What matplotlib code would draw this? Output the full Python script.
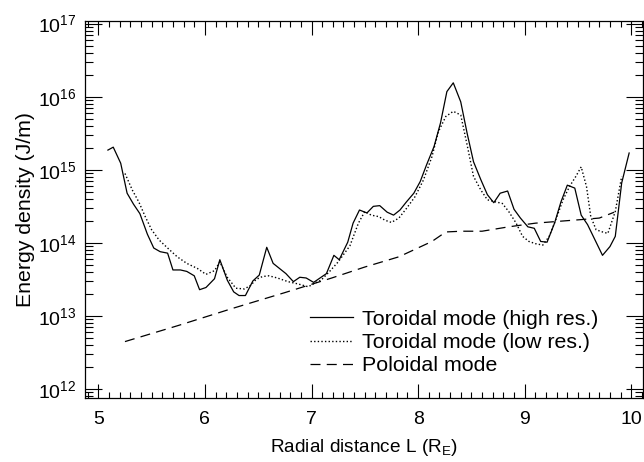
import numpy as np
import matplotlib
matplotlib.use("Agg")
import matplotlib.pyplot as plt
from matplotlib.ticker import MultipleLocator, LogLocator, NullFormatter

plt.rcParams['font.family'] = ['Liberation Sans', 'DejaVu Sans']
plt.rcParams['mathtext.default'] = 'regular'

# Toroidal mode (high resolution)
L_high = [5.09, 5.14, 5.21, 5.27, 5.33, 5.39, 5.46, 5.52, 5.58, 5.65, 5.70, 5.77,
          5.83, 5.90, 5.95, 6.01, 6.09, 6.14, 6.21, 6.27, 6.32, 6.38, 6.45, 6.51,
          6.58, 6.64, 6.70, 6.76, 6.83, 6.89, 6.95, 7.02, 7.08, 7.14, 7.21, 7.26,
          7.34, 7.39, 7.45, 7.52, 7.58, 7.64, 7.71, 7.77, 7.83, 7.89, 7.96, 8.02,
          8.08, 8.15, 8.21, 8.27, 8.33, 8.40, 8.46, 8.52, 8.59, 8.65, 8.71, 8.77,
          8.84, 8.90, 8.96, 9.03, 9.09, 9.15, 9.21, 9.28, 9.34, 9.40, 9.47, 9.53,
          9.59, 9.66, 9.73, 9.80, 9.85, 9.91, 9.98]
logE_high = [15.27, 15.31, 15.09, 14.68, 14.53, 14.40, 14.12, 13.93, 13.88, 13.86, 13.63, 13.63,
             13.61, 13.55, 13.36, 13.39, 13.51, 13.77, 13.49, 13.33, 13.28, 13.28, 13.48, 13.56,
             13.94, 13.72, 13.65, 13.58, 13.47, 13.53, 13.52, 13.46, 13.52, 13.58, 13.83, 13.77,
             14.01, 14.27, 14.45, 14.41, 14.50, 14.51, 14.42, 14.38, 14.45, 14.56, 14.68, 14.84,
             15.07, 15.32, 15.64, 16.07, 16.19, 15.93, 15.50, 15.11, 14.86, 14.66, 14.55, 14.68,
             14.71, 14.46, 14.34, 14.22, 14.20, 14.02, 14.01, 14.27, 14.56, 14.79, 14.75, 14.38,
             14.25, 14.04, 13.83, 13.95, 14.09, 14.82, 15.23]

# Toroidal mode (low resolution)
L_low = [5.25, 5.32, 5.38, 5.44, 5.50, 5.57, 5.65, 5.74, 5.83, 5.93, 6.01, 6.09,
         6.14, 6.21, 6.29, 6.37, 6.43, 6.48, 6.54, 6.60, 6.68, 6.78, 6.87, 6.97,
         7.03, 7.09, 7.17, 7.25, 7.36, 7.44, 7.50, 7.56, 7.63, 7.69, 7.75, 7.82,
         7.89, 7.97, 8.05, 8.13, 8.19, 8.26, 8.33, 8.40, 8.46, 8.52, 8.59, 8.65,
         8.73, 8.79, 8.85, 8.92, 8.98, 9.04, 9.10, 9.17, 9.23, 9.29, 9.36, 9.42,
         9.48, 9.53, 9.58, 9.62, 9.67, 9.73, 9.78, 9.85, 9.91]
logE_low = [14.95, 14.72, 14.56, 14.36, 14.18, 14.04, 13.93, 13.81, 13.72, 13.65, 13.57, 13.62,
            13.74, 13.53, 13.38, 13.37, 13.42, 13.50, 13.54, 13.55, 13.52, 13.47, 13.44, 13.40,
            13.45, 13.49, 13.61, 13.74, 13.96, 14.27, 14.43, 14.38, 14.36, 14.31, 14.28, 14.34,
            14.47, 14.63, 14.86, 15.18, 15.52, 15.73, 15.80, 15.75, 15.34, 14.91, 14.72, 14.59,
            14.56, 14.54, 14.43, 14.27, 14.09, 14.02, 13.99, 13.97, 14.09, 14.31, 14.59, 14.77,
            14.91, 15.04, 14.77, 14.36, 14.18, 14.15, 14.13, 14.43, 14.91]

# Poloidal mode
L_pol = [5.25, 5.75, 6.25, 6.75, 7.19, 7.50, 7.82, 8.13, 8.26, 8.41, 8.60, 8.85,
         9.10, 9.36, 9.54, 9.70, 9.84]
logE_pol = [12.65, 12.87, 13.10, 13.32, 13.52, 13.67, 13.81, 14.02, 14.15, 14.16, 14.16, 14.22,
            14.27, 14.30, 14.32, 14.34, 14.42]

fig = plt.figure(figsize=(6.44, 4.62), dpi=100)
ax = fig.add_axes([85/644, 1-397.5/462, (643-85)/644, (397.5-21)/462])

ax.plot(L_high, 10**np.array(logE_high), color='black', lw=0.9, ls='-',
        label='Toroidal mode (high res.)')
ax.plot(L_low, 10**np.array(logE_low), color='black', lw=1.0, ls=(0, (1, 1.6)),
        label='Toroidal mode (low res.)')
ax.plot(L_pol, 10**np.array(logE_pol), color='black', lw=0.9, ls=(0, (8, 5)),
        label='Poloidal mode')

ax.set_yscale('log')
ax.set_xlim(4.875, 10.11)
ax.set_ylim(10**11.885, 10**17.036)

ax.xaxis.set_major_locator(MultipleLocator(1))
ax.xaxis.set_minor_locator(MultipleLocator(0.1))
ax.yaxis.set_major_locator(LogLocator(base=10, numticks=20))
ax.yaxis.set_minor_locator(LogLocator(base=10, subs=np.arange(2, 10), numticks=20))
ax.yaxis.set_minor_formatter(NullFormatter())

ax.tick_params(which='both', direction='in', top=True, right=True, width=0.8,
               labelsize=14, colors='black')
ax.tick_params(axis='x', which='major', length=10, pad=10)
ax.tick_params(axis='x', which='minor', length=4.5)
ax.tick_params(axis='y', which='major', length=12, pad=6)
ax.tick_params(axis='y', which='minor', length=6)
for s in ax.spines.values():
    s.set_linewidth(0.9)

ax.set_xlabel('Radial distance L (R$_E$)', fontsize=13.7, labelpad=6)
ax.set_ylabel('Energy density (J/m)', fontsize=15.3, labelpad=2)

ax.legend(loc='center left', bbox_to_anchor=(0.403, 0.146), frameon=False, fontsize=15.4,
          handlelength=2.0, handletextpad=0.42, labelspacing=0.2, borderaxespad=0,
          borderpad=0)

fig.savefig('out.png', dpi=100)
